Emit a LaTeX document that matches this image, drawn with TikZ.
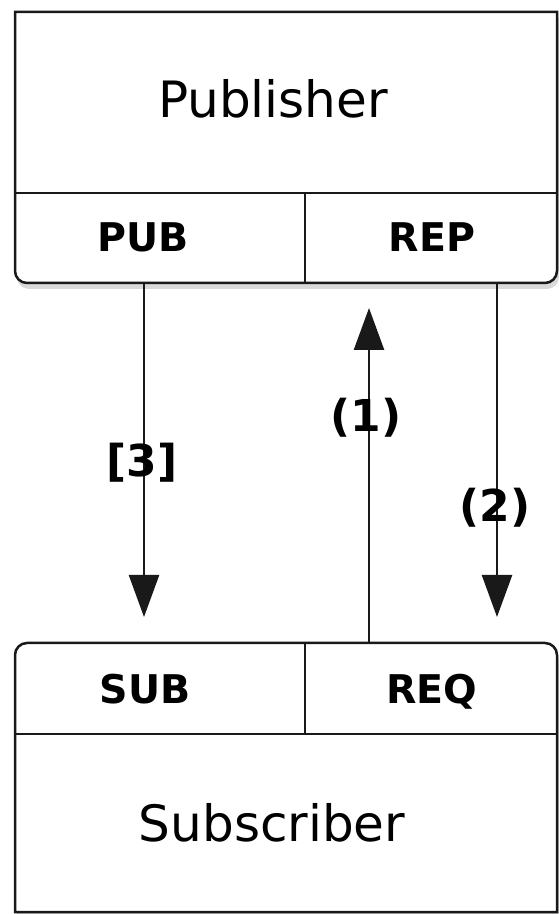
\documentclass[tikz,border=0pt]{standalone}
\usepackage{fontspec}
\setmainfont{DejaVu Sans}
\usetikzlibrary{arrows.meta,shadows}

\begin{document}
\begin{tikzpicture}[line width=0.05cm]
    \useasboundingbox (0,0) rectangle (11.18,18.28);
    \tikzset{
        box/.style={draw=black!90, fill=white, drop shadow={opacity=0.3, shadow xshift=0.04cm, shadow yshift=-0.12cm}},
        msg/.style={draw=black!90, -{Triangle[width=0.6cm,length=0.84cm]}},
        title/.style={font=\fontsize{28.5}{34}\selectfont, inner sep=0pt, anchor=base},
        port/.style={font=\bfseries\fontsize{22.5}{27}\selectfont, inner sep=0pt, anchor=base},
        num/.style={font=\bfseries\fontsize{25}{30}\selectfont, inner sep=0pt}
    }
    % 箱
    \path[box] (11.14,18.04) -- (0.30,18.04) -- (0.30,15) [rounded corners=0.24cm] -- (0.30,12.62) -- (11.14,12.62) -- (11.14,15) [sharp corners] -- cycle;
    \draw[black!90] (0.30,14.42) -- (11.14,14.42);
    \draw[black!90] (6.10,14.42) -- (6.10,12.62);
    \path[box] (11.14,0.04) -- (0.30,0.04) -- (0.30,3) [rounded corners=0.24cm] -- (0.30,5.42) -- (11.14,5.42) -- (11.14,3) [sharp corners] -- cycle;
    \draw[black!90] (0.30,3.60) -- (11.14,3.60);
    \draw[black!90] (6.10,5.42) -- (6.10,3.60);

    % ノード
    \node[title] (publisher) at (5.46,15.92) {Publisher};
    \node[port] (pub) at (2.86,13.24) {PUB};
    \node[port] (rep) at (8.64,13.24) {REP};
    \node[port] (sub) at (2.90,4.20) {SUB};
    \node[port] (req) at (8.64,4.20) {REQ};
    \node[title] (subscriber) at (5.44,1.44) {Subscriber};

    % ソケットの出入り口
    \coordinate (pubout) at (2.88,12.62);
    \coordinate (subin) at (2.88,5.42);
    \coordinate (reqout) at (7.38,5.42);
    \coordinate (repin) at (7.38,12.62);
    \coordinate (repout) at (9.94,12.62);
    \coordinate (reqin) at (9.94,5.42);

    % エッジ
    \draw[msg, shorten >=0.52cm] (pubout) -- (subin);
    \draw[msg, shorten >=0.5cm] (reqout) -- (repin);
    \draw[msg, shorten >=0.52cm] (repout) -- (reqin);

    % 番号
    \node[num] (n3) at (2.84,9.02) {[3]};
    \node[num] (n1) at (7.32,9.92) {(1)};
    \node[num] (n2) at (9.90,8.12) {(2)};
\end{tikzpicture}
\end{document}
